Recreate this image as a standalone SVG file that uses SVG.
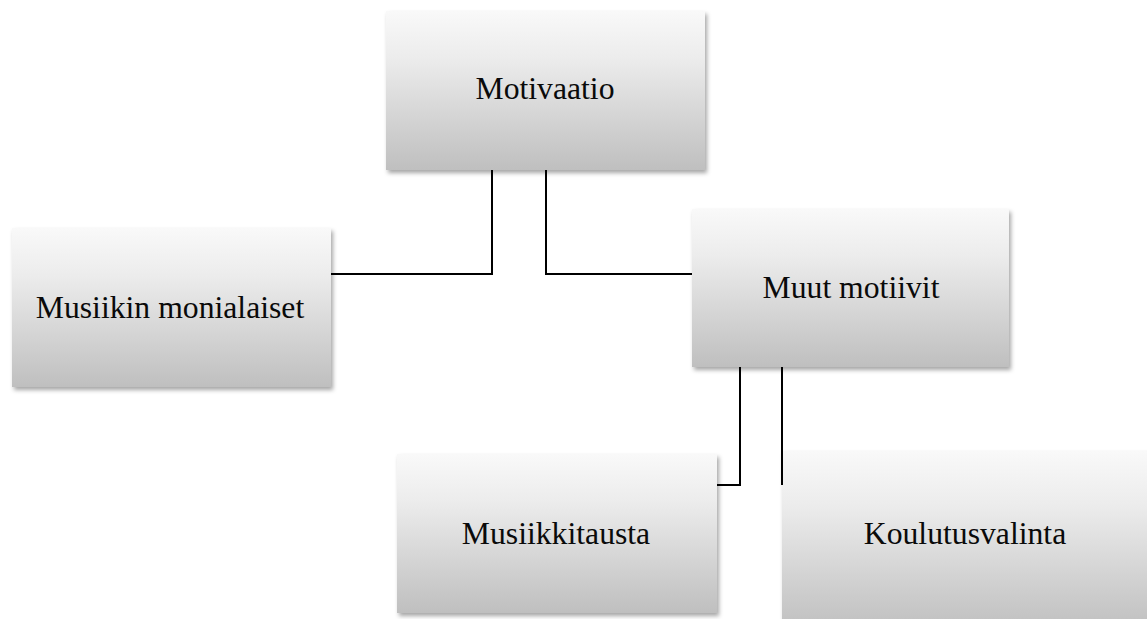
<svg xmlns="http://www.w3.org/2000/svg" width="1147" height="619" viewBox="0 0 1147 619">
<style>
.box{fill:url(#g);filter:url(#sh)}
.lbl{font-family:"Liberation Serif","Times New Roman",serif;font-size:31.7px;fill:#0a0a0a;text-anchor:middle}
.c{stroke:#000;stroke-width:2;fill:none}
</style>
<defs>
<linearGradient id="g" x1="0" y1="0" x2="0" y2="1">
<stop offset="0" stop-color="#f9f9f9"/>
<stop offset="0.3" stop-color="#ececec"/>
<stop offset="1" stop-color="#bfbfbf"/>
</linearGradient>
<filter id="sh" x="-5%" y="-5%" width="115%" height="120%">
<feDropShadow dx="2" dy="3" stdDeviation="2" flood-color="#000" flood-opacity="0.35"/>
</filter>
</defs>
<rect width="1147" height="619" fill="#fff"/>
<g id="motivaatio"><rect class="box" x="386" y="11" width="319" height="159"/><text class="lbl" x="545" y="99">Motivaatio</text></g>
<g id="musiikin-monialaiset"><rect class="box" x="12" y="228" width="319" height="159"/><text class="lbl" x="170" y="318">Musiikin monialaiset</text></g>
<g id="muut-motiivit"><rect class="box" x="692" y="209" width="317" height="158"/><text class="lbl" x="851" y="298">Muut motiivit</text></g>
<g id="musiikkitausta"><rect class="box" x="397" y="454" width="320" height="159"/><text class="lbl" x="556" y="544">Musiikkitausta</text></g>
<g id="koulutusvalinta"><rect class="box" x="782" y="451" width="380" height="180"/><text class="lbl" x="965" y="544">Koulutusvalinta</text></g>
<g id="connectors">
<polyline class="c" points="492,170 492,274 331,274"/>
<polyline class="c" points="546,170 546,274 692,274"/>
<polyline class="c" points="740,367 740,485 717,485"/>
<polyline class="c" points="782,367 782,485"/>
</g>
</svg>
